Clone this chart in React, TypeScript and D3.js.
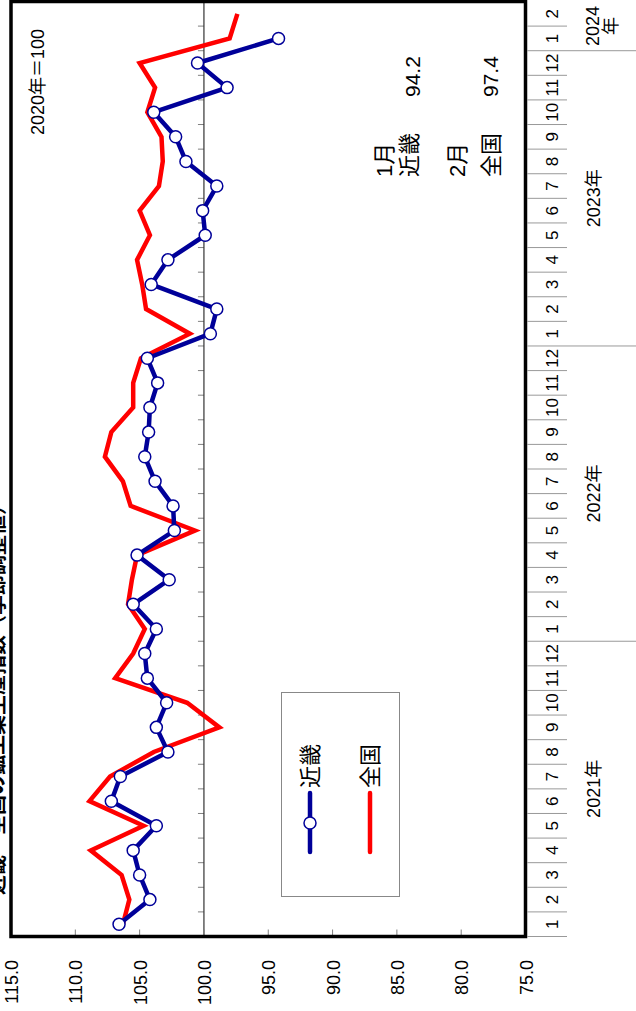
import React from "react";
import * as d3 from "d3";

const monthLabels: string[] = [
  "1","2","3","4","5","6","7","8","9","10","11","12",
  "1","2","3","4","5","6","7","8","9","10","11","12",
  "1","2","3","4","5","6","7","8","9","10","11","12",
  "1","2",
];
const yearLabels: string[] = ["2021年", "2022年", "2023年", "2024年"];
const yearStartIdx: number[] = [0, 12, 24, 36];
const yearMonthCount: number[] = [12, 12, 12, 2];

const kinki: number[] = [
  106.6, 104.2, 105.0, 105.5, 103.7, 107.2, 106.5, 102.8, 103.7, 102.9, 104.4, 104.6,
  103.7, 105.5, 102.7, 105.2, 102.3, 102.4, 103.8, 104.6, 104.3, 104.2, 103.6, 104.4,
  99.5, 99.0, 104.1, 102.8, 99.9, 100.1, 99.0, 101.4, 102.2, 103.9, 98.2, 100.5,
  94.2,
];
const zenkoku: number[] = [
  106.3, 105.8, 106.4, 108.8, 104.7, 108.9, 107.3, 103.9, 98.8, 101.3, 106.9, 105.5,
  104.6, 105.9, 105.6, 105.2, 100.7, 105.7, 106.3, 107.7, 107.2, 105.5, 105.5, 104.9,
  101.1, 104.5, 104.8, 105.2, 104.2, 105.0, 103.5, 103.2, 103.3, 104.4, 103.8, 105.0,
  98.0, 97.4,
];
const valueTicks: number[] = [115, 110, 105, 100, 95, 90, 85, 80, 75];
const seriesNames: string[] = ["近畿", "全国"];

const FONT = "'Liberation Sans', Arial, 'Noto Sans CJK JP', sans-serif";
const BLUE = "#000099";
const RED = "#FF0000";

function RText(props: {
  x: number; y: number; anchor?: string; size: number; weight?: string; children: React.ReactNode; fill?: string;
}) {
  const { x, y, anchor = "middle", size, weight = "normal", children, fill = "#000" } = props;
  return (
    <text
      transform={`translate(${x},${y}) rotate(-90)`}
      textAnchor={anchor}
      dominantBaseline="central"
      fontSize={size}
      fontWeight={weight}
      fontFamily={FONT}
      fill={fill}
    >
      {children}
    </text>
  );
}

export default function App() {
  const W = 636, H = 1011;
  const left = 11, right = 525.5, top = 1.5, bottom = 936.5;
  const xVal = d3.scaleLinear().domain([115, 75]).range([left, right]);
  const yCat = d3.scaleBand<number>().domain(d3.range(monthLabels.length)).range([bottom, top]);
  const bw = yCat.bandwidth();
  const cy = (i: number) => (yCat(i) as number) + bw / 2;

  const line = d3.line<[number, number]>().x((d) => xVal(d[1])).y((d) => cy(d[0]));
  const kinkiPts: [number, number][] = kinki.map((v, i) => [i, v]);
  const zenPts: [number, number][] = zenkoku.map((v, i) => [i, v]);

  const boundaries = d3.range(monthLabels.length + 1).map((i) => bottom - i * bw);

  return (
    <svg width={W} height={H} style={{ position: "absolute", left: 0, top: 0, background: "#fff" }}>
      <rect x={0} y={0} width={W} height={H} fill="#fff" />
      {/* title (mostly clipped, as in the reference) */}
      <RText x={-3} y={495} anchor="end" size={20} weight="bold">
        近畿・全国の鉱工業生産指数（季節調整値）
      </RText>

      {/* 100 line ticks */}
      {boundaries.map((y, i) => (
        <line key={"t" + i} x1={xVal(100) - 6} x2={xVal(100)} y1={y} y2={y} stroke="#808080" strokeWidth={1} />
      ))}
      <line x1={xVal(100)} x2={xVal(100)} y1={top} y2={bottom} stroke="#333" strokeWidth={1.2} />

      {/* value ticks at bottom border */}
      {valueTicks.map((v) => (
        <line key={"vt" + v} x1={xVal(v)} x2={xVal(v)} y1={bottom - 7} y2={bottom} stroke="#808080" strokeWidth={1} />
      ))}

      {/* legend box */}
      <rect x={281.5} y={692.5} width={118} height={204} fill="#fff" stroke="#888" strokeWidth={1} />
      <line x1={310} x2={310} y1={793} y2={852} stroke={BLUE} strokeWidth={4.5} strokeLinecap="round" />
      <circle cx={310} cy={823} r={6} fill="#fff" stroke={BLUE} strokeWidth={1.5} />
      <RText x={310} y={788} anchor="start" size={22}>{seriesNames[0]}</RText>
      <line x1={370} x2={370} y1={793} y2={852} stroke={RED} strokeWidth={4.5} strokeLinecap="round" />
      <RText x={370} y={788} anchor="start" size={22}>{seriesNames[1]}</RText>

      {/* series */}
      <path d={line(zenPts) || ""} fill="none" stroke={RED} strokeWidth={4.5} strokeLinejoin="miter" />
      <path d={line(kinkiPts) || ""} fill="none" stroke={BLUE} strokeWidth={4.5} strokeLinejoin="round" />
      {kinkiPts.map((d) => (
        <circle key={"m" + d[0]} cx={xVal(d[1])} cy={cy(d[0])} r={6} fill="#fff" stroke={BLUE} strokeWidth={1.5} />
      ))}

      {/* annotations */}
      <RText x={38} y={135} anchor="start" size={18}>2020年＝100</RText>
      <RText x={384} y={177} anchor="start" size={22}>1月</RText>
      <RText x={409} y={177} anchor="start" size={22}>{seriesNames[0]}</RText>
      <RText x={412} y={97} anchor="start" size={21}>{kinki[kinki.length - 1].toFixed(1)}</RText>
      <RText x={457} y={177} anchor="start" size={22}>2月</RText>
      <RText x={491} y={177} anchor="start" size={22}>{seriesNames[1]}</RText>
      <RText x={490} y={97} anchor="start" size={21}>{zenkoku[zenkoku.length - 1].toFixed(1)}</RText>

      {/* frame */}
      <rect x={left} y={top} width={right - left} height={bottom - top} fill="none" stroke="#000" strokeWidth={3.5} />

      {/* value axis labels */}
      {valueTicks.map((v) => (
        <RText key={"vl" + v} x={xVal(v) + 1} y={960} anchor="end" size={18}>{v.toFixed(1)}</RText>
      ))}

      {/* category axis */}
      {boundaries.map((y, i) => {
        const isYear = yearStartIdx.includes(i) && i !== 0;
        if (i === monthLabels.length) return null;
        return (
          <line key={"cb" + i} x1={right + 1.5} x2={isYear ? W : 567} y1={y} y2={y} stroke="#999" strokeWidth={1} />
        );
      })}
      {monthLabels.map((m, i) => (
        <RText key={"ml" + i} x={552} y={cy(i)} size={17}>{m}</RText>
      ))}
      {yearLabels.map((yl, k) => {
        const i0 = yearStartIdx[k];
        const n = yearMonthCount[k];
        const yc = (cy(i0) + cy(i0 + n - 1)) / 2;
        if (n < 3) {
          return (
            <g key={"yl" + k}>
              <RText x={593} y={yc} size={18}>{yl.slice(0, 4)}</RText>
              <RText x={611} y={yc} size={18}>{yl.slice(4)}</RText>
            </g>
          );
        }
        return <RText key={"yl" + k} x={594} y={yc} size={18}>{yl}</RText>;
      })}
    </svg>
  );
}
